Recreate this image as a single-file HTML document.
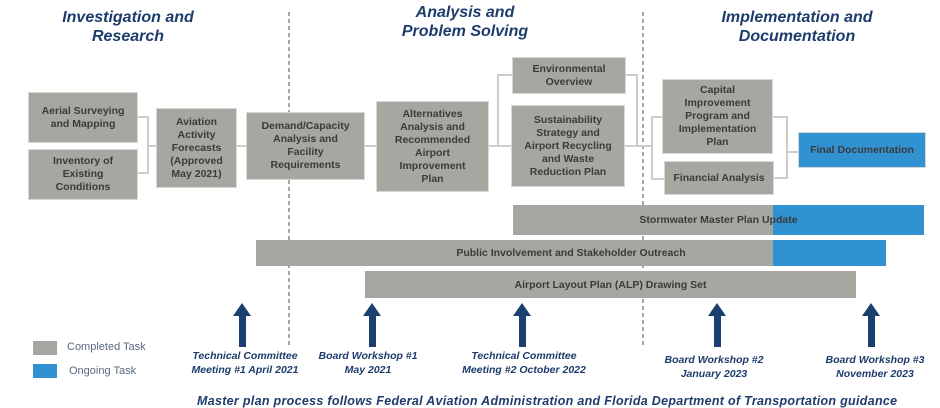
<!DOCTYPE html>
<html><head><meta charset="utf-8"><style>
body{margin:0;width:940px;height:400px;overflow:hidden;background:#fff;position:relative;font-family:"Liberation Sans",sans-serif}
.b{position:absolute;background:#a5a7a1;color:#3b3b3b;font-weight:bold;font-size:10.5px;line-height:13px;display:flex;align-items:center;justify-content:center;text-align:center;box-sizing:border-box;border:1px solid #d8d8d6}
.blue{background:#3192d2}
.h{position:absolute;color:#1d3c6b;font-weight:bold;font-style:italic;font-size:16px;line-height:19px;text-align:center;width:240px}
.m{position:absolute;color:#1d3c6b;font-weight:bold;font-style:italic;font-size:10.5px;line-height:14px;text-align:center;width:160px}
.bar{position:absolute;background:#a5a7a1;color:#3b3b3b;font-weight:bold;font-size:10.5px;display:flex;align-items:center;justify-content:center}
</style></head><body>
<svg width="940" height="400" style="position:absolute;left:0;top:0">
<g stroke="#888" stroke-width="1.5" stroke-dasharray="4,3"><line x1="289" y1="12" x2="289" y2="345"/><line x1="643" y1="12" x2="643" y2="345"/></g>
<g stroke="#cdcdcd" stroke-width="2" fill="none">
<polyline points="138,117 148,117 148,173 138,173"/><line x1="148" y1="146" x2="156" y2="146"/>
<line x1="237" y1="146" x2="246" y2="146"/><line x1="365" y1="146" x2="376" y2="146"/>
<line x1="489" y1="146" x2="511" y2="146"/>
<polyline points="512,75 498,75 498,146"/><polyline points="626,75 637,75 637,146 625,146"/>
<line x1="637" y1="146" x2="652" y2="146"/>
<polyline points="662,117 652,117 652,179 664,179"/>
<polyline points="773,117 787,117 787,178 774,178"/><line x1="787" y1="152" x2="798" y2="152"/>
</g>
<g fill="#1b3f6e">
<rect x="239" y="314" width="7" height="33"/><polygon points="233,316 242,303 251,316"/>
<rect x="369" y="314" width="7" height="33"/><polygon points="363,316 372,303 381,316"/>
<rect x="519" y="314" width="7" height="33"/><polygon points="513,316 522,303 531,316"/>
<rect x="714" y="314" width="7" height="33"/><polygon points="708,316 717,303 726,316"/>
<rect x="868" y="314" width="7" height="33"/><polygon points="862,316 871,303 880,316"/>
</g>
</svg>
<div class="h" style="left:8px;top:8px">Investigation and<br>Research</div>
<div class="h" style="left:345px;top:3px">Analysis and<br>Problem Solving</div>
<div class="h" style="left:677px;top:8px">Implementation and<br>Documentation</div>
<div class="b" style="left:28px;top:92px;width:110px;height:51px">Aerial Surveying<br>and Mapping</div>
<div class="b" style="left:28px;top:149px;width:110px;height:51px">Inventory of<br>Existing<br>Conditions</div>
<div class="b" style="left:156px;top:108px;width:81px;height:80px">Aviation<br>Activity<br>Forecasts<br>(Approved<br>May 2021)</div>
<div class="b" style="left:246px;top:112px;width:119px;height:68px">Demand/Capacity<br>Analysis and<br>Facility<br>Requirements</div>
<div class="b" style="left:376px;top:101px;width:113px;height:91px">Alternatives<br>Analysis and<br>Recommended<br>Airport<br>Improvement<br>Plan</div>
<div class="b" style="left:512px;top:57px;width:114px;height:37px">Environmental<br>Overview</div>
<div class="b" style="left:511px;top:105px;width:114px;height:82px">Sustainability<br>Strategy and<br>Airport Recycling<br>and Waste<br>Reduction Plan</div>
<div class="b" style="left:662px;top:79px;width:111px;height:75px">Capital<br>Improvement<br>Program and<br>Implementation<br>Plan</div>
<div class="b" style="left:664px;top:161px;width:110px;height:34px">Financial Analysis</div>
<div class="b blue" style="left:798px;top:132px;width:128px;height:36px">Final Documentation</div>
<div class="bar" style="left:513px;top:205px;width:411px;height:30px;background:linear-gradient(90deg,#a5a7a1 260px,#3192d2 260px)">Stormwater Master Plan Update</div>
<div class="bar" style="left:256px;top:240px;width:630px;height:26px;background:linear-gradient(90deg,#a5a7a1 517px,#3192d2 517px)">Public Involvement and Stakeholder Outreach</div>
<div class="bar" style="left:365px;top:271px;width:491px;height:27px">Airport Layout Plan (ALP) Drawing Set</div>
<div style="position:absolute;left:33px;top:341px;width:24px;height:14px;background:#a5a7a1"></div>
<div style="position:absolute;left:33px;top:364px;width:24px;height:14px;background:#3192d2"></div>
<div style="position:absolute;left:67px;top:341px;font-size:11px;color:#5a6a80">Completed Task</div>
<div style="position:absolute;left:69px;top:365px;font-size:11px;color:#5a6a80">Ongoing Task</div>
<div class="m" style="left:165px;top:349px">Technical Committee<br>Meeting #1 April 2021</div>
<div class="m" style="left:288px;top:349px">Board Workshop #1<br>May 2021</div>
<div class="m" style="left:444px;top:349px">Technical Committee<br>Meeting #2 October 2022</div>
<div class="m" style="left:634px;top:353px">Board Workshop #2<br>January 2023</div>
<div class="m" style="left:795px;top:353px">Board Workshop #3<br>November 2023</div>
<div style="position:absolute;left:197px;top:394px;width:712px;white-space:nowrap;color:#1d3c6b;font-weight:bold;font-style:italic;font-size:12.5px;letter-spacing:0.3px">Master plan process follows Federal Aviation Administration and Florida Department of Transportation guidance</div>
</body></html>
